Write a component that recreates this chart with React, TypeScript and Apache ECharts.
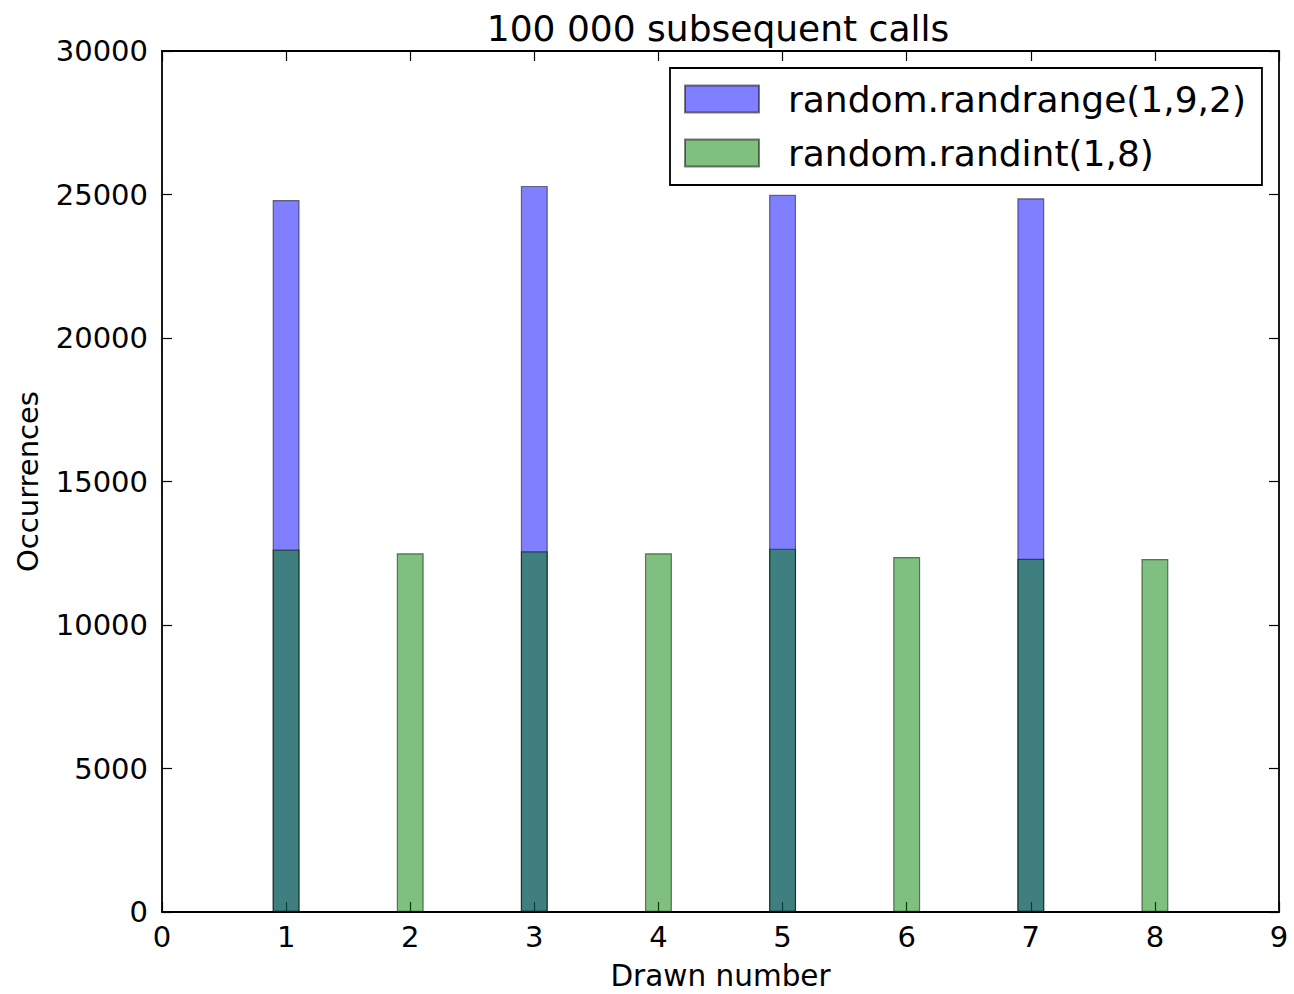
import React, { useEffect, useRef } from "react";
import * as echarts from "echarts";

const titleText = "100 000 subsequent calls";
const xAxisName = "Drawn number";
const yAxisName = "Occurrences";

const randrangeName = "random.randrange(1,9,2)";
const randrangeX = [1, 3, 5, 7];
const randrangeCounts = [24810, 25300, 24990, 24870];

const randintName = "random.randint(1,8)";
const randintX = [1, 2, 3, 4, 5, 6, 7, 8];
const randintCounts = [12630, 12500, 12570, 12500, 12660, 12370, 12310, 12300];

const xMin = 0;
const xMax = 9;
const xStep = 1;
const yMin = 0;
const yMax = 30000;
const yStep = 5000;

const FONT = "DejaVu Sans";

export default function App() {
  const ref = useRef<HTMLDivElement>(null);

  useEffect(() => {
    if (!ref.current) return;
    const chart = echarts.init(ref.current, null, { renderer: "svg" });

    const tickStyle = { show: true, inside: true, length: 10, lineStyle: { color: "#000", width: 1.2 } };
    const lineStyle = { show: true, lineStyle: { color: "#000", width: 1.8 } };

    chart.setOption({
      animation: false,
      backgroundColor: "#fff",
      textStyle: { fontFamily: FONT },
      title: {
        text: titleText,
        left: 713,
        textAlign: "center",
        top: 5,
        textStyle: { fontFamily: FONT, fontSize: 36, fontWeight: "normal", color: "#000" },
      },
      grid: {
        left: 162,
        right: 15,
        top: 51,
        bottom: 82,
        show: false,
        outerBoundsMode: "none",
      },
      legend: {
        orient: "vertical",
        left: 670,
        top: 68,
        padding: [13, 16, 14, 14],
        itemWidth: 74,
        itemHeight: 27,
        itemGap: 18,
        icon: "rect",
        borderColor: "#000",
        borderWidth: 1.8,
        borderRadius: 0,
        backgroundColor: "#fff",
        selectedMode: false,
        textStyle: { fontFamily: FONT, fontSize: 36, color: "#000", padding: [0, 0, 0, 24] },
        data: [randrangeName, randintName],
      },
      xAxis: [
        {
          type: "value",
          min: xMin,
          max: xMax,
          interval: xStep,
          position: "bottom",
          name: xAxisName,
          nameLocation: "middle",
          nameGap: 49,
          nameTextStyle: { fontFamily: FONT, fontSize: 29.5, color: "#000" },
          axisLine: { ...lineStyle, onZero: false },
          axisTick: tickStyle,
          axisLabel: { fontFamily: FONT, fontSize: 29, color: "#000", margin: 10 },
          splitLine: { show: false },
        },
        {
          type: "value",
          min: xMin,
          max: xMax,
          interval: xStep,
          position: "top",
          axisLine: { ...lineStyle, onZero: false },
          axisTick: tickStyle,
          axisLabel: { show: false },
          splitLine: { show: false },
        },
      ],
      yAxis: [
        {
          type: "value",
          min: yMin,
          max: yMax,
          interval: yStep,
          position: "left",
          name: yAxisName,
          nameLocation: "middle",
          nameRotate: 90,
          nameGap: 120,
          nameTextStyle: { fontFamily: FONT, fontSize: 29, color: "#000" },
          axisLine: { ...lineStyle, onZero: false },
          axisTick: tickStyle,
          axisLabel: {
            fontFamily: FONT,
            fontSize: 29,
            color: "#000",
            margin: 14,
            formatter: (v: number) => String(v),
          },
          splitLine: { show: false },
        },
        {
          type: "value",
          min: yMin,
          max: yMax,
          interval: yStep,
          position: "right",
          axisLine: { ...lineStyle, onZero: false },
          axisTick: tickStyle,
          axisLabel: { show: false },
          splitLine: { show: false },
        },
      ],
      series: [
        {
          name: randrangeName,
          type: "bar",
          xAxisIndex: 0,
          yAxisIndex: 0,
          barWidth: 27,
          barGap: "-100%",
          itemStyle: { color: "rgba(0,0,255,0.5)", borderColor: "rgba(0,0,0,0.5)", borderWidth: 1.2 },
          data: randrangeX.map((x, i) => [x, randrangeCounts[i]]),
        },
        {
          name: randintName,
          type: "bar",
          xAxisIndex: 0,
          yAxisIndex: 0,
          barWidth: 27,
          barGap: "-100%",
          itemStyle: { color: "rgba(0,128,0,0.5)", borderColor: "rgba(0,0,0,0.5)", borderWidth: 1.2 },
          data: randintX.map((x, i) => [x, randintCounts[i]]),
        },
      ],
    });

    return () => chart.dispose();
  }, []);

  return (
    <div
      ref={ref}
      style={{ position: "absolute", left: 0, top: 0, width: 1294, height: 994 }}
    />
  );
}
